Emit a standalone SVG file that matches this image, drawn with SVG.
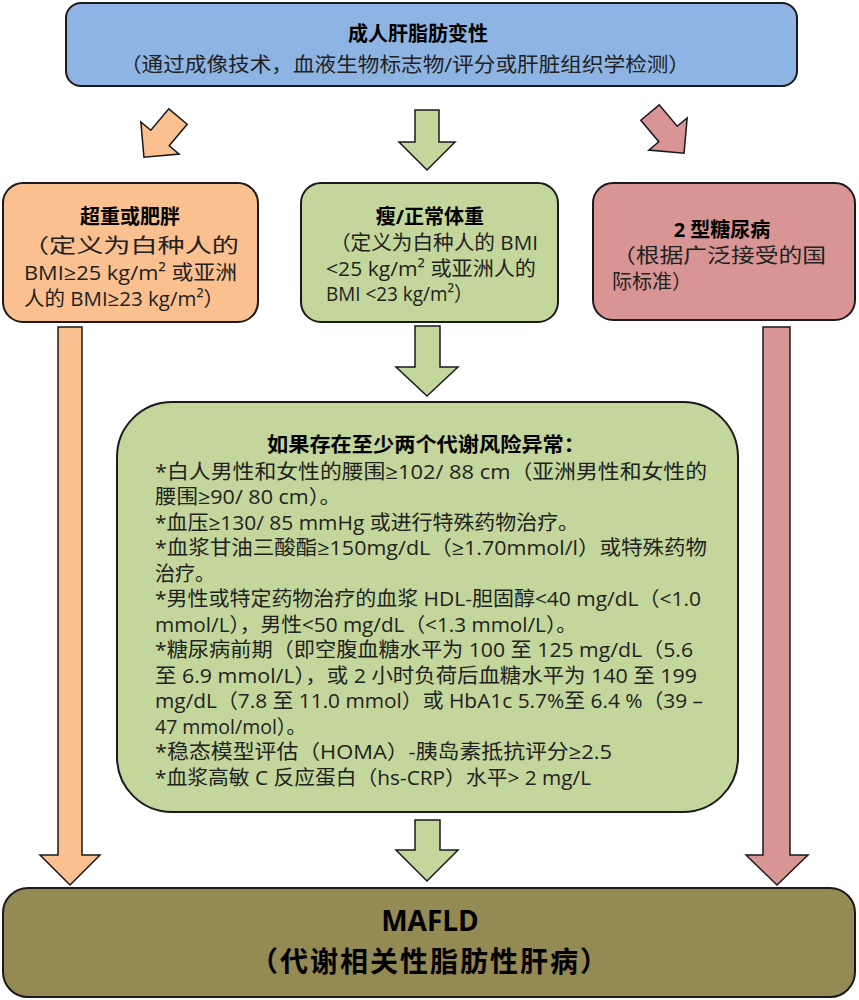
<svg xmlns="http://www.w3.org/2000/svg" width="859" height="1000" viewBox="0 0 859 1000">
<style>
text{font-family:"Open Sans","Noto Sans CJK SC",sans-serif;fill:#000}
.t{font-size:20px;font-weight:bold;text-anchor:middle}
.s{font-size:20px;fill:#222}
.c{text-anchor:middle}
.box{stroke:#1a1a1a;stroke-width:2}
.ar{stroke:#1a1a1a;stroke-width:1.5}
</style>
<rect width="859" height="1000" fill="#fff"/>
<g id="top"><rect class="box" x="66" y="3" width="731" height="83" rx="15" fill="#8eb4e3"/>
<text class="t" x="418" y="41">成人肝脂肪变性</text>
<text class="s" x="120" y="72" textLength="570" lengthAdjust="spacingAndGlyphs">（通过成像技术，血液生物标志物/评分或肝脏组织学检测）</text></g>
<g id="connectors">
<polygon class="ar" fill="#fac090" transform="translate(160,138) rotate(40)" points="-12,-28 12,-28 12,0 25,0 0,25 -25,0 -12,0"/>
<polygon class="ar" fill="#c3d69b" transform="translate(427,140)" points="-12,-30 12,-30 12,2 28,2 0,30 -28,2 -12,2"/>
<polygon class="ar" fill="#d99594" transform="translate(668,134) rotate(-40)" points="-12,-28 12,-28 12,0 25,0 0,25 -25,0 -12,0"/>
<polygon class="ar" fill="#fac090" points="58,327 82,327 82,855 100,855 70,885 40,855 58,855"/>
<polygon class="ar" fill="#d99594" points="763,327 790,327 790,855 808,855 777,885 746,855 763,855"/>
<polygon class="ar" fill="#c3d69b" points="415,326 440,326 440,367 458,367 427,396 396,367 415,367"/>
<polygon class="ar" fill="#c3d69b" points="415,820 440,820 440,850 458,850 427,881 396,850 415,850"/>
</g>
<g id="overweight"><rect class="box" x="3" y="183" width="255" height="139" rx="20" fill="#fac090"/>
<text class="t" x="130" y="224">超重或肥胖</text>
<text class="s" x="22" y="253" textLength="217" lengthAdjust="spacingAndGlyphs">（定义为白种人的</text>
<text class="s" x="24" y="280" textLength="213" lengthAdjust="spacingAndGlyphs">BMI≥25 kg/m² 或亚洲</text>
<text class="s" x="24" y="306" textLength="200" lengthAdjust="spacingAndGlyphs">人的 BMI≥23 kg/m²）</text></g>
<g id="lean"><rect class="box" x="301" y="183" width="257" height="139" rx="20" fill="#c3d69b"/>
<text class="t" x="430" y="224">瘦/正常体重</text>
<text class="s" x="330" y="250" textLength="208" lengthAdjust="spacingAndGlyphs">（定义为白种人的 BMI</text>
<text class="s" x="326" y="276" textLength="210" lengthAdjust="spacingAndGlyphs">&lt;25 kg/m² 或亚洲人的</text>
<text class="s" x="326" y="301" textLength="147" lengthAdjust="spacingAndGlyphs">BMI &lt;23 kg/m²）</text></g>
<g id="t2d"><rect class="box" x="593" y="183" width="262" height="137" rx="20" fill="#d99594"/>
<text class="t" x="722" y="237">2 型糖尿病</text>
<text class="s" x="612" y="263" textLength="214" lengthAdjust="spacingAndGlyphs">（根据广泛接受的国</text>
<text class="s" x="612" y="289">际标准）</text></g>
<g id="risk"><rect class="box" x="117" y="402" width="621" height="410" rx="55" fill="#c3d69b"/>
<text class="t" x="426" y="452" textLength="318" lengthAdjust="spacingAndGlyphs">如果存在至少两个代谢风险异常：</text>
<text class="s" x="155" y="479" textLength="552" lengthAdjust="spacingAndGlyphs">*白人男性和女性的腰围≥102/ 88 cm（亚洲男性和女性的</text>
<text class="s" x="155" y="504" textLength="186" lengthAdjust="spacingAndGlyphs">腰围≥90/ 80 cm）。</text>
<text class="s" x="155" y="530" textLength="424" lengthAdjust="spacingAndGlyphs">*血压≥130/ 85 mmHg 或进行特殊药物治疗。</text>
<text class="s" x="155" y="555" textLength="552" lengthAdjust="spacingAndGlyphs">*血浆甘油三酸酯≥150mg/dL（≥1.70mmol/l）或特殊药物</text>
<text class="s" x="155" y="581">治疗。</text>
<text class="s" x="155" y="606" textLength="546" lengthAdjust="spacingAndGlyphs">*男性或特定药物治疗的血浆 HDL-胆固醇&lt;40 mg/dL（&lt;1.0</text>
<text class="s" x="155" y="632" textLength="422" lengthAdjust="spacingAndGlyphs">mmol/L），男性&lt;50 mg/dL（&lt;1.3 mmol/L）。</text>
<text class="s" x="155" y="657" textLength="538" lengthAdjust="spacingAndGlyphs">*糖尿病前期（即空腹血糖水平为 100 至 125 mg/dL（5.6</text>
<text class="s" x="155" y="683" textLength="542" lengthAdjust="spacingAndGlyphs">至 6.9 mmol/L），或 2 小时负荷后血糖水平为 140 至 199</text>
<text class="s" x="155" y="708" textLength="548" lengthAdjust="spacingAndGlyphs">mg/dL（7.8 至 11.0 mmol）或 HbA1c 5.7%至 6.4 %（39 –</text>
<text class="s" x="155" y="734" textLength="151" lengthAdjust="spacingAndGlyphs">47 mmol/mol）。</text>
<text class="s" x="155" y="759" textLength="457" lengthAdjust="spacingAndGlyphs">*稳态模型评估（HOMA）-胰岛素抵抗评分≥2.5</text>
<text class="s" x="155" y="785" textLength="436" lengthAdjust="spacingAndGlyphs">*血浆高敏 C 反应蛋白（hs-CRP）水平&gt; 2 mg/L</text>
</g>
<g id="mafld"><rect class="box" x="3" y="888" width="852" height="109" rx="25" fill="#948a54"/>
<text class="c" x="430" y="931" style="font-size:28px;font-weight:bold">MAFLD</text>
<text class="c" x="430" y="972" style="font-size:28px;font-weight:bold;letter-spacing:2px">（代谢相关性脂肪性肝病）</text></g>
</svg>
